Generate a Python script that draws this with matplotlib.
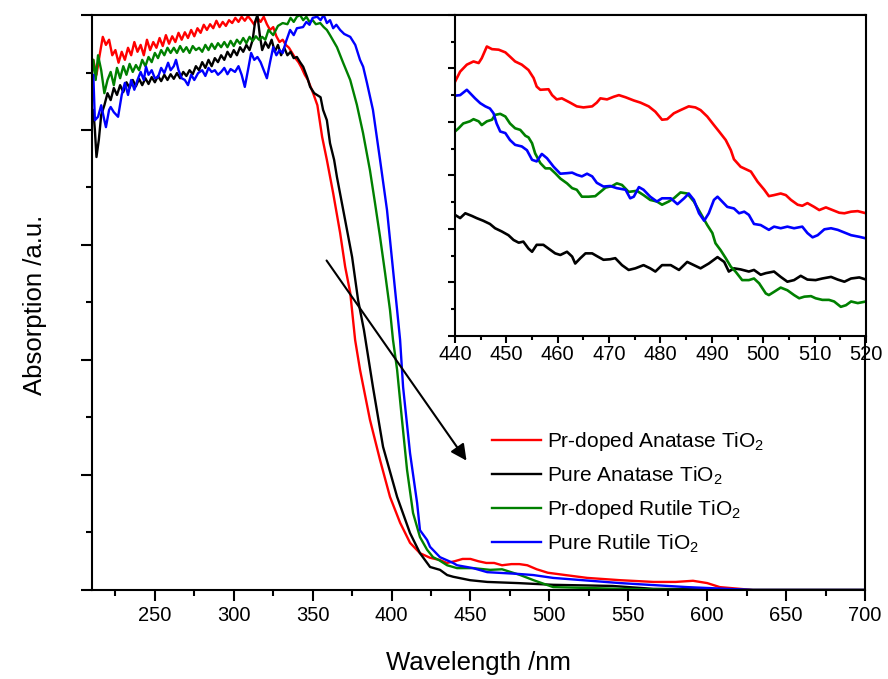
import matplotlib
matplotlib.use('Agg')
import matplotlib.pyplot as plt
from matplotlib.ticker import MultipleLocator, NullFormatter

plt.rcParams['font.family'] = ['Liberation Sans', 'DejaVu Sans']
plt.rcParams['mathtext.fontset'] = 'custom'
plt.rcParams['mathtext.rm'] = 'Liberation Sans'
plt.rcParams['mathtext.it'] = 'Liberation Sans:italic'

# ---- main spectra (wavelength nm, absorption a.u.) ----
red_wl = [210, 211, 213, 215, 217, 219, 221, 223, 225, 227, 229, 231, 233, 235, 237, 239, 241, 243, 245, 247,
          249, 251, 253, 255, 257, 259, 261, 263, 265, 267, 269, 271, 273, 275, 277, 279, 281, 283, 285, 287,
          289, 291, 293, 295, 297, 299, 301, 303, 305, 307, 309, 311, 313, 315, 317, 319, 321, 323, 325, 327,
          329, 331, 333, 335, 337, 339, 341, 343, 345, 347, 349, 350.3, 353, 356, 359, 363, 367.4, 370.6, 373.8,
          376.9, 380, 386.3, 392.7, 399, 405.4, 411.7, 418, 424.4, 430.7, 435, 440, 445, 450, 455, 460, 465, 470,
          476, 481, 486, 492, 499, 510, 524, 545, 566, 580, 591, 600, 608, 629, 650, 700]
red_ab = [0.904, 0.922, 0.896, 0.930, 0.962, 0.948, 0.957, 0.930, 0.939, 0.917, 0.936, 0.922, 0.943, 0.930, 0.953,
          0.936, 0.948, 0.930, 0.957, 0.939, 0.953, 0.943, 0.960, 0.946, 0.965, 0.950, 0.963, 0.953, 0.969, 0.957,
          0.970, 0.960, 0.974, 0.963, 0.977, 0.969, 0.983, 0.974, 0.984, 0.977, 0.990, 0.979, 0.988, 0.981, 0.991,
          0.986, 0.995, 0.988, 0.997, 0.990, 0.998, 0.991, 0.983, 0.995, 0.988, 0.997, 0.984, 0.974, 0.979, 0.963,
          0.953, 0.957, 0.948, 0.943, 0.934, 0.925, 0.918, 0.908, 0.896, 0.887, 0.873, 0.864, 0.843, 0.788, 0.748,
          0.690, 0.621, 0.562, 0.517, 0.435, 0.383, 0.296, 0.226, 0.162, 0.117, 0.082, 0.064, 0.056, 0.052, 0.047,
          0.050, 0.054, 0.054, 0.050, 0.047, 0.047, 0.043, 0.045, 0.045, 0.043, 0.036, 0.030, 0.026, 0.021, 0.017,
          0.014, 0.014, 0.016, 0.012, 0.005, 0.0, 0.0, 0.0]

black_wl = [210, 211, 212, 213, 214.5, 216, 218, 220, 222, 224, 226, 228, 230, 232, 234, 236, 238, 240, 242, 244,
            246, 248, 250, 252, 254, 256, 258, 260, 262, 264, 266, 268, 270, 272, 274, 276, 278, 280, 282, 284,
            286, 288, 290, 292, 294, 296, 298, 300, 302, 304, 306, 308, 310, 312, 313.5, 315, 316.5, 318, 320,
            322, 324, 326, 328, 330, 332, 334, 336, 338, 340, 342, 344, 346.5, 348.4, 351, 355, 356.6, 359, 361,
            363.6, 365.4, 370.6, 375, 378.8, 382.5, 388.2, 394.6, 403.5, 411.7, 418, 424.4, 430.7, 435.2, 439,
            449.8, 460.6, 480, 502.4, 540, 565.8, 600, 629, 700]
black_ab = [0.817, 0.835, 0.800, 0.753, 0.783, 0.826, 0.843, 0.864, 0.852, 0.873, 0.861, 0.878, 0.866, 0.883,
            0.873, 0.887, 0.876, 0.889, 0.878, 0.890, 0.880, 0.892, 0.883, 0.894, 0.885, 0.896, 0.887, 0.897,
            0.889, 0.899, 0.890, 0.901, 0.894, 0.904, 0.897, 0.911, 0.904, 0.918, 0.908, 0.922, 0.911, 0.925,
            0.918, 0.930, 0.922, 0.936, 0.927, 0.939, 0.930, 0.944, 0.936, 0.948, 0.939, 0.957, 0.988, 1.0, 0.965,
            0.939, 0.953, 0.943, 0.957, 0.936, 0.948, 0.930, 0.943, 0.930, 0.936, 0.925, 0.927, 0.918, 0.910,
            0.892, 0.875, 0.864, 0.857, 0.835, 0.817, 0.777, 0.748, 0.718, 0.643, 0.579, 0.504, 0.452, 0.353,
            0.249, 0.162, 0.099, 0.064, 0.040, 0.035, 0.026, 0.023, 0.017, 0.014, 0.012, 0.009, 0.007, 0.002,
            0.001, 0.0, 0.0]

green_wl = [210, 211, 212.5, 214, 216, 218, 220, 222, 224, 226, 228, 230, 232, 234, 236, 238, 240, 242, 244, 246,
            248, 250, 252, 254, 256, 258, 260, 262, 264, 266, 268, 270, 272, 274, 276, 278, 280, 282, 284, 286,
            288, 290, 292, 294, 296, 298, 300, 302, 304, 306, 308, 310, 312, 314, 316, 318, 320, 322, 325, 328,
            331, 334, 336, 338, 340, 342, 344, 346, 348, 350, 352, 354.8, 357, 359, 361, 365.4, 369.3, 373.8, 378,
            381.9, 386.3, 389.5, 392.7, 395.9, 399, 400.9, 403.5, 406.6, 409.8, 413.6, 418, 422.5, 426.3, 430,
            435.2, 441.5, 451.7, 462.5, 470, 481.5, 490, 502.4, 545, 587, 700]
green_ab = [0.896, 0.922, 0.887, 0.930, 0.904, 0.864, 0.887, 0.901, 0.878, 0.908, 0.890, 0.911, 0.896, 0.915,
            0.901, 0.913, 0.904, 0.922, 0.911, 0.927, 0.918, 0.934, 0.925, 0.939, 0.930, 0.943, 0.934, 0.943,
            0.934, 0.946, 0.936, 0.944, 0.934, 0.946, 0.939, 0.943, 0.936, 0.948, 0.939, 0.950, 0.941, 0.951,
            0.944, 0.953, 0.944, 0.955, 0.946, 0.957, 0.950, 0.960, 0.951, 0.962, 0.955, 0.963, 0.957, 0.962,
            0.957, 0.974, 0.965, 0.981, 0.986, 0.984, 0.995, 0.988, 0.997, 1.0, 0.991, 0.997, 0.988, 0.991, 0.984,
            0.986, 0.979, 0.974, 0.965, 0.944, 0.917, 0.887, 0.844, 0.795, 0.730, 0.673, 0.614, 0.551, 0.487,
            0.435, 0.383, 0.296, 0.209, 0.134, 0.092, 0.070, 0.057, 0.052, 0.043, 0.038, 0.038, 0.035, 0.036,
            0.026, 0.017, 0.005, 0.002, 0.0, 0.0]

blue_wl = [210, 211, 212, 214, 216, 218, 219, 221, 222, 224, 226.7, 229, 231, 233, 235, 237, 239, 241, 243, 244.4,
           246, 248, 250, 252, 254, 256, 258.4, 260, 262, 263.4, 265, 267, 269, 271, 273, 275, 277.4, 280, 282,
           284, 286, 288, 290, 292, 294, 296, 298, 300.8, 303, 305, 307, 309, 311, 313, 315, 317, 319, 321, 323,
           325, 327, 329, 331, 333, 335.7, 338, 340, 343.9, 346, 348, 350, 352.9, 355, 357, 359, 361, 363, 365,
           367.4, 370, 373.8, 377, 380, 382, 384.4, 388.2, 392.7, 397.1, 400.3, 403.5, 405.4, 407.3, 411.7, 416.2,
           418, 422.5, 424.4, 430.7, 439, 441.5, 451.7, 460.6, 480, 489.7, 502.4, 544.8, 587.3, 629, 700]
blue_ab = [0.852, 0.896, 0.817, 0.823, 0.843, 0.817, 0.805, 0.835, 0.840, 0.831, 0.823, 0.861, 0.882, 0.861,
           0.887, 0.870, 0.887, 0.901, 0.887, 0.910, 0.896, 0.904, 0.890, 0.892, 0.908, 0.899, 0.917, 0.904,
           0.911, 0.922, 0.904, 0.890, 0.887, 0.878, 0.896, 0.887, 0.899, 0.904, 0.894, 0.908, 0.901, 0.904,
           0.896, 0.901, 0.908, 0.897, 0.906, 0.901, 0.911, 0.896, 0.875, 0.904, 0.934, 0.922, 0.927, 0.918,
           0.904, 0.890, 0.918, 0.944, 0.930, 0.939, 0.934, 0.953, 0.974, 0.965, 0.977, 0.979, 0.988, 0.983,
           0.995, 0.997, 0.991, 1.0, 0.986, 0.991, 0.977, 0.983, 0.974, 0.967, 0.962, 0.948, 0.922, 0.910, 0.882,
           0.835, 0.748, 0.661, 0.574, 0.487, 0.435, 0.353, 0.238, 0.151, 0.104, 0.087, 0.075, 0.057, 0.047,
           0.043, 0.038, 0.031, 0.028, 0.026, 0.021, 0.012, 0.005, 0.0, 0.0]

# ---- inset (440-520 nm), arbitrary units ----
in_red_wl = [440.0, 441.0, 442.3, 443.6, 444.6, 445.2, 446.2, 447.2, 448.5, 449.8, 450.7, 451.7, 453.0, 454.3,
             455.3, 455.9, 456.6, 458.2, 458.9, 459.8, 460.8, 462.4, 463.7, 465.0, 466.7, 467.6, 468.3, 469.6,
             470.9, 471.9, 473.2, 474.8, 476.1, 477.7, 479.0, 480.3, 481.3, 482.6, 483.9, 485.5, 486.8, 487.8,
             489.1, 490.4, 491.4, 492.7, 493.7, 494.3, 495.6, 497.6, 498.9, 500.2, 501.1, 502.1, 503.4, 504.4,
             505.4, 506.7, 507.6, 508.6, 509.9, 510.9, 512.2, 513.5, 514.8, 515.8, 517.1, 518.4, 520.0]
in_red_ab = [4.75, 4.94, 5.07, 5.13, 5.10, 5.19, 5.41, 5.36, 5.35, 5.30, 5.22, 5.13, 5.07, 4.97, 4.82, 4.66, 4.60,
             4.61, 4.50, 4.42, 4.44, 4.36, 4.29, 4.27, 4.29, 4.36, 4.44, 4.42, 4.47, 4.50, 4.46, 4.40, 4.36, 4.29,
             4.19, 4.04, 4.05, 4.16, 4.22, 4.29, 4.27, 4.22, 4.10, 3.94, 3.82, 3.66, 3.47, 3.30, 3.16, 3.07, 2.88,
             2.73, 2.61, 2.63, 2.66, 2.63, 2.54, 2.45, 2.43, 2.48, 2.41, 2.35, 2.40, 2.35, 2.30, 2.29, 2.32, 2.33,
             2.29]

in_black_wl = [440.0, 441.0, 442.0, 443.3, 444.2, 445.5, 446.8, 447.8, 449.1, 450.4, 451.4, 452.4, 453.3, 454.3,
               455.0, 455.9, 457.2, 458.2, 459.5, 460.5, 461.8, 462.8, 463.4, 464.4, 465.4, 466.7, 467.6, 468.9,
               470.2, 471.2, 472.5, 473.8, 475.1, 476.7, 478.0, 479.0, 480.3, 482.0, 483.6, 485.2, 486.5, 487.8,
               489.4, 491.1, 492.4, 493.3, 494.3, 495.6, 497.2, 498.2, 499.5, 500.5, 502.1, 503.4, 504.7, 506.0,
               507.3, 508.6, 510.2, 511.5, 513.2, 514.5, 515.8, 517.1, 518.7, 520.0]
in_black_ab = [2.26, 2.20, 2.29, 2.24, 2.20, 2.15, 2.09, 2.01, 1.95, 1.88, 1.79, 1.74, 1.76, 1.63, 1.57, 1.70,
               1.70, 1.63, 1.54, 1.51, 1.57, 1.48, 1.35, 1.45, 1.54, 1.54, 1.49, 1.42, 1.43, 1.45, 1.32, 1.23,
               1.26, 1.32, 1.26, 1.20, 1.32, 1.32, 1.23, 1.38, 1.32, 1.26, 1.35, 1.47, 1.38, 1.20, 1.26, 1.24,
               1.20, 1.23, 1.14, 1.17, 1.20, 1.10, 1.01, 1.04, 1.12, 1.05, 1.04, 1.07, 1.10, 1.05, 1.01, 1.07,
               1.09, 1.05]

in_green_wl = [440.0, 440.7, 441.6, 442.9, 443.6, 444.6, 445.2, 446.2, 447.2, 447.8, 448.8, 449.8, 450.7, 451.7,
               452.7, 453.7, 454.3, 455.0, 455.6, 456.6, 457.6, 458.5, 459.5, 460.5, 461.8, 462.8, 463.7, 464.7,
               466.0, 467.3, 468.3, 469.3, 470.6, 471.5, 472.5, 473.8, 475.4, 476.7, 478.0, 479.3, 480.3, 481.6,
               482.6, 483.9, 485.2, 486.5, 487.8, 489.1, 490.1, 490.7, 491.7, 492.7, 493.7, 494.6, 495.9, 497.2,
               498.2, 499.2, 500.5, 501.1, 502.1, 503.4, 504.7, 506.0, 507.0, 508.0, 509.3, 510.2, 511.5, 512.8,
               513.8, 515.1, 516.1, 517.1, 518.4, 520.0]
in_green_ab = [3.82, 3.88, 3.97, 4.01, 4.05, 4.01, 3.94, 4.01, 4.04, 4.13, 4.15, 4.10, 3.97, 3.88, 3.85, 3.74,
               3.71, 3.60, 3.41, 3.23, 3.13, 3.13, 3.04, 2.94, 2.85, 2.76, 2.73, 2.60, 2.60, 2.61, 2.69, 2.77,
               2.80, 2.85, 2.82, 2.69, 2.71, 2.63, 2.54, 2.51, 2.45, 2.51, 2.57, 2.68, 2.66, 2.51, 2.29, 2.07,
               1.92, 1.73, 1.60, 1.45, 1.29, 1.20, 1.04, 1.04, 1.07, 0.98, 0.79, 0.76, 0.82, 0.90, 0.85, 0.76,
               0.70, 0.73, 0.74, 0.70, 0.67, 0.67, 0.64, 0.54, 0.57, 0.64, 0.61, 0.64]

in_blue_wl = [440.0, 441.0, 442.3, 442.9, 443.9, 444.9, 445.9, 446.8, 447.5, 448.1, 448.8, 449.8, 450.7, 451.7,
              453.0, 454.0, 455.0, 455.9, 456.9, 457.9, 459.2, 460.5, 461.8, 462.8, 463.7, 464.7, 465.7, 466.7,
              467.6, 468.9, 470.2, 471.5, 473.2, 474.1, 474.8, 475.8, 476.7, 478.0, 479.3, 480.3, 482.0, 483.3,
              484.6, 485.5, 486.5, 487.5, 488.5, 489.4, 490.4, 491.1, 492.0, 493.0, 494.3, 495.3, 496.3, 497.2,
              498.2, 499.5, 501.1, 502.1, 503.4, 504.7, 506.0, 507.6, 508.6, 509.6, 510.6, 511.9, 513.2, 514.5,
              515.8, 517.1, 518.7, 520.0]
in_blue_ab = [4.49, 4.50, 4.60, 4.54, 4.44, 4.35, 4.29, 4.25, 4.16, 3.97, 3.82, 3.79, 3.66, 3.57, 3.54, 3.47,
              3.29, 3.26, 3.40, 3.32, 3.16, 3.03, 3.04, 3.05, 3.01, 2.98, 3.03, 2.98, 2.86, 2.79, 2.80, 2.76,
              2.73, 2.57, 2.60, 2.78, 2.73, 2.60, 2.51, 2.57, 2.57, 2.46, 2.57, 2.66, 2.54, 2.29, 2.15, 2.29,
              2.54, 2.60, 2.51, 2.41, 2.38, 2.29, 2.32, 2.26, 2.09, 2.07, 1.98, 2.04, 2.01, 2.04, 2.01, 2.04,
              1.92, 1.84, 1.88, 1.99, 2.01, 1.98, 1.93, 1.88, 1.85, 1.82]

labels = [r'Pr-doped Anatase TiO$_2$', r'Pure Anatase TiO$_2$',
          r'Pr-doped Rutile TiO$_2$', r'Pure Rutile TiO$_2$']
colors = ['#ff0000', '#000000', '#008000', '#0000ff']

# arrow (data coords of main axes)
arrow_start = (357.8, 0.577)
arrow_end = (448.5, 0.221)

fig = plt.figure(figsize=(8.88, 6.79), dpi=100)
ax = fig.add_axes([0.1033, 0.1311, 0.8708, 0.8468])

series = [(red_wl, red_ab), (black_wl, black_ab), (green_wl, green_ab), (blue_wl, blue_ab)]
for (x, y), c, lab in zip(series, colors, labels):
    ax.plot(x, y, color=c, lw=1.7, label=lab)

ax.set_xlim(210, 700)
ax.set_ylim(0, 1)
ax.xaxis.set_minor_locator(MultipleLocator(25))
ax.set_xticks(range(250, 701, 50))
ax.yaxis.set_major_locator(MultipleLocator(0.2))
ax.yaxis.set_minor_locator(MultipleLocator(0.1))
ax.yaxis.set_major_formatter(NullFormatter())
ax.tick_params(which='major', direction='out', length=8, width=1.5, labelsize=14.5)
ax.tick_params(which='minor', direction='out', length=4.5, width=1.5)
ax.tick_params(top=False, right=False)
for s in ax.spines.values():
    s.set_linewidth(1.5)
ax.set_xlabel('Wavelength /nm', fontsize=18.5, labelpad=19)
ax.set_ylabel('Absorption /a.u.', fontsize=18.5)
ax.yaxis.set_label_coords(-0.058, 0.495)

ax.annotate('', xy=arrow_end, xytext=arrow_start,
            arrowprops=dict(arrowstyle='-|>', color='black', lw=1.5, mutation_scale=24))

leg = ax.legend(loc='upper left', bbox_to_anchor=(492 / 888, 1 - 430 / 679),
                bbox_transform=fig.transFigure, frameon=False, fontsize=15,
                handlelength=2.35, handletextpad=0.3, labelspacing=0.55,
                borderpad=0, borderaxespad=0)

# inset
axi = fig.add_axes([0.5124, 0.5056, 0.4628, 0.4724])
axi.set_facecolor('white')
inset = [(in_red_wl, in_red_ab), (in_black_wl, in_black_ab),
         (in_green_wl, in_green_ab), (in_blue_wl, in_blue_ab)]
for (x, y), c in zip(inset, colors):
    axi.plot(x, y, color=c, lw=1.9)
axi.set_xlim(440, 520)
axi.set_ylim(0, 6)
axi.xaxis.set_major_locator(MultipleLocator(10))
axi.xaxis.set_minor_locator(MultipleLocator(5))
axi.yaxis.set_major_locator(MultipleLocator(1))
axi.yaxis.set_minor_locator(MultipleLocator(0.5))
axi.yaxis.set_major_formatter(NullFormatter())
axi.tick_params(which='major', direction='out', length=5, width=1.5, labelsize=14.5, pad=2)
axi.tick_params(which='minor', direction='out', length=3, width=1.5)
for s in axi.spines.values():
    s.set_linewidth(1.5)

fig.savefig('out.png', dpi=100)
